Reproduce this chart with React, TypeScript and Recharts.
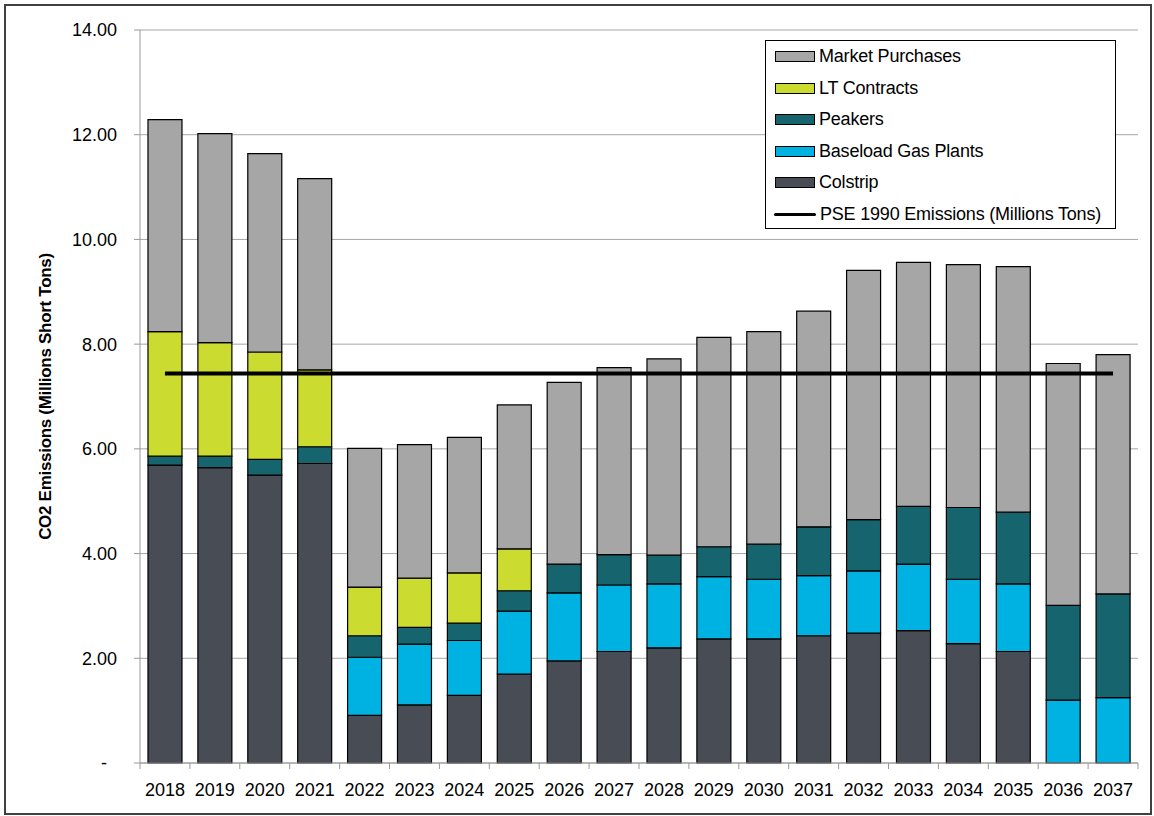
import React from 'react';
import {
  ComposedChart,
  Bar,
  Line,
  XAxis,
  YAxis,
  CartesianGrid,
} from 'recharts';

// Years on the category axis
const years = [
  '2018', '2019', '2020', '2021', '2022', '2023', '2024', '2025', '2026', '2027',
  '2028', '2029', '2030', '2031', '2032', '2033', '2034', '2035', '2036', '2037',
];

// Stacked segments, millions short tons
const colstrip = [5.69, 5.64, 5.5, 5.72, 0.91, 1.11, 1.29, 1.7, 1.95, 2.13, 2.2, 2.37, 2.37, 2.43, 2.48, 2.53, 2.28, 2.13, 0, 0];
const baseloadGas = [0, 0, 0, 0, 1.11, 1.16, 1.05, 1.2, 1.3, 1.27, 1.22, 1.19, 1.14, 1.15, 1.19, 1.27, 1.23, 1.29, 1.2, 1.25];
const peakers = [0.17, 0.22, 0.3, 0.32, 0.41, 0.32, 0.33, 0.39, 0.55, 0.58, 0.55, 0.57, 0.67, 0.93, 0.98, 1.1, 1.37, 1.37, 1.81, 1.98];
const ltContracts = [2.38, 2.17, 2.05, 1.47, 0.93, 0.94, 0.96, 0.8, 0, 0, 0, 0, 0, 0, 0, 0, 0, 0, 0, 0];
const marketPurchases = [4.05, 3.99, 3.79, 3.65, 2.65, 2.55, 2.59, 2.75, 3.47, 3.57, 3.75, 4.0, 4.06, 4.12, 4.76, 4.66, 4.64, 4.69, 4.62, 4.57];

// PSE 1990 emissions reference level
const pse1990 = 7.44;

const yTicks = [0, 2, 4, 6, 8, 10, 12, 14];

const data = years.map((year, i) => ({
  year,
  colstrip: colstrip[i],
  baseload: baseloadGas[i],
  peakers: peakers[i],
  lt: ltContracts[i],
  market: marketPurchases[i],
  pse: pse1990,
}));

const FONT = '"Liberation Sans", Arial, sans-serif';

const legendItems = [
  { name: 'Market Purchases', color: '#A6A6A6', type: 'box' },
  { name: 'LT Contracts', color: '#CCDB2F', type: 'box' },
  { name: 'Peakers', color: '#16646E', type: 'box' },
  { name: 'Baseload Gas Plants', color: '#00B2E2', type: 'box' },
  { name: 'Colstrip', color: '#474C55', type: 'box' },
  { name: 'PSE 1990 Emissions (Millions Tons)', color: '#000', type: 'line' },
];

const PLOT_LEFT = 140;
const PLOT_RIGHT = 1138;
const BAND = (PLOT_RIGHT - PLOT_LEFT) / years.length;

function XTick(props: any) {
  const { x, y, index } = props;
  const left = x - BAND / 2;
  return (
    <g>
      <line x1={left} y1={y - 6} x2={left} y2={y} stroke="#999" strokeWidth={1} />
      {index === years.length - 1 && (
        <line x1={left + BAND} y1={y - 6} x2={left + BAND} y2={y} stroke="#999" strokeWidth={1} />
      )}
      <text x={x} y={y + 27} textAnchor="middle" fontSize={18} fontFamily={FONT} fill="#000">
        {props.payload.value}
      </text>
    </g>
  );
}

function YTick(props: any) {
  const { x, y, payload } = props;
  const v = payload.value;
  return (
    <text
      x={v === 0 ? x - 10 : x}
      y={y}
      dy="0.36em"
      textAnchor="end"
      fontSize={18}
      fontFamily={FONT}
      fill="#000"
    >
      {v === 0 ? '-' : v.toFixed(2)}
    </text>
  );
}

function LegendBox() {
  return (
    <div
      style={{
        position: 'absolute',
        left: 765,
        top: 40,
        width: 351,
        height: 189,
        border: '1px solid #000',
        background: '#fff',
        boxSizing: 'border-box',
        fontFamily: FONT,
      }}
    >
      {legendItems.map((item) => (
        <div
          key={item.name}
          style={{ display: 'flex', alignItems: 'center', height: 31.5 }}
        >
          {item.type === 'box' ? (
            <span
              style={{
                display: 'inline-block',
                marginLeft: 9,
                width: 38,
                height: 9,
                background: item.color,
                border: '1px solid #000',
              }}
            />
          ) : (
            <span
              style={{
                display: 'inline-block',
                marginLeft: 8,
                width: 42,
                height: 3,
                background: '#000',
                borderRadius: 2,
              }}
            />
          )}
          <span style={{ marginLeft: 4, fontSize: 18, color: '#000', letterSpacing: -0.2 }}>
            {item.name}
          </span>
        </div>
      ))}
    </div>
  );
}

export default function App() {
  return (
    <div style={{ position: 'absolute', left: 0, top: 0, width: 1154, height: 816, background: '#fff' }}>
      <div
        style={{
          position: 'absolute',
          left: 4,
          top: 4,
          width: 1144,
          height: 807,
          border: '2px solid #404040',
        }}
      />
      <div style={{ position: 'absolute', left: 0, top: 0 }}>
        <ComposedChart
          width={1154}
          height={816}
          data={data}
          margin={{ top: 30, right: 16, bottom: 23, left: 60 }}
          barCategoryGap="16%"
        >
          <CartesianGrid vertical={false} stroke="#A6A6A6" strokeWidth={1} />
          <XAxis
            dataKey="year"
            height={30}
            tickLine={false}
            tickSize={6}
            tickMargin={0}
            axisLine={{ stroke: '#999' }}
            tick={<XTick />}
            interval={0}
          />
          <YAxis
            width={80}
            domain={[0, 14]}
            ticks={yTicks}
            tickSize={6}
            tickMargin={17}
            tickLine={{ stroke: '#999' }}
            axisLine={{ stroke: '#999' }}
            tick={<YTick />}
            label={{
              content: (p: any) => {
                const vb = p.viewBox || {};
                const cy = (vb.y ?? 30) + (vb.height ?? 733) / 2;
                const cx = 45;
                return (
                  <text
                    x={cx}
                    y={cy}
                    transform={`rotate(-90 ${cx} ${cy})`}
                    textAnchor="middle"
                    dominantBaseline="central"
                    fontSize={17}
                    fontWeight="bold"
                    fontFamily={FONT}
                    fill="#000"
                    letterSpacing={-0.3}
                  >
                    CO2 Emissions (Millions Short Tons)
                  </text>
                );
              },
            }}
          />
          <Bar dataKey="colstrip" name="Colstrip" stackId="a" fill="#474C55" stroke="#000" strokeWidth={1.2} isAnimationActive={false} />
          <Bar dataKey="baseload" name="Baseload Gas Plants" stackId="a" fill="#00B2E2" stroke="#000" strokeWidth={1.2} isAnimationActive={false} />
          <Bar dataKey="peakers" name="Peakers" stackId="a" fill="#16646E" stroke="#000" strokeWidth={1.2} isAnimationActive={false} />
          <Bar dataKey="lt" name="LT Contracts" stackId="a" fill="#CCDB2F" stroke="#000" strokeWidth={1.2} isAnimationActive={false} />
          <Bar dataKey="market" name="Market Purchases" stackId="a" fill="#A6A6A6" stroke="#000" strokeWidth={1.2} isAnimationActive={false} />
          <Line
            dataKey="pse"
            name="PSE 1990 Emissions (Millions Tons)"
            type="linear"
            stroke="#000"
            strokeWidth={4}
            dot={false}
            activeDot={false}
            isAnimationActive={false}
          />
        </ComposedChart>
      </div>
      <LegendBox />
    </div>
  );
}
